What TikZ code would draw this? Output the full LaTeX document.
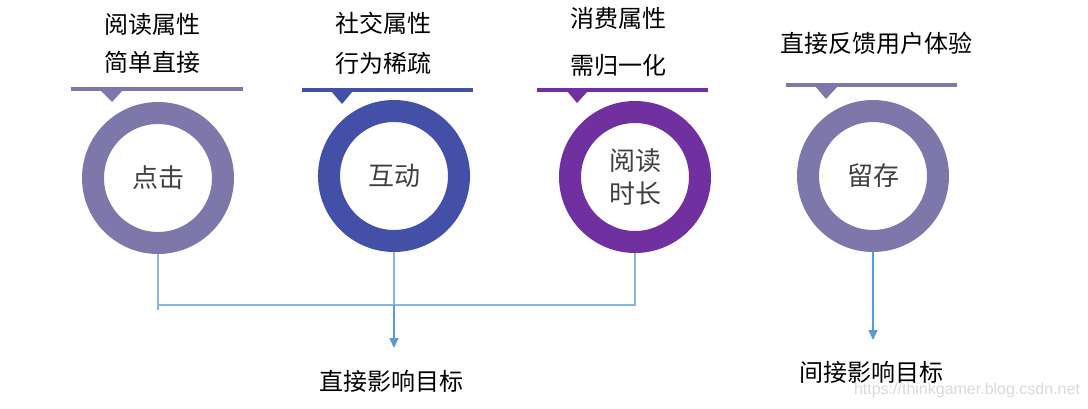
\documentclass[tikz,border=0pt]{standalone}
\usepackage{fontspec}
\setmainfont{Noto Sans CJK SC}
\newfontfamily\markfont{Liberation Sans}
\usetikzlibrary{arrows.meta}

% 颜色
\definecolor{ringA}{HTML}{7E78AA}
\definecolor{ringB}{HTML}{4450A8}
\definecolor{ringC}{HTML}{7030A0}
\definecolor{linkblue}{HTML}{8AB4E2}
\definecolor{arrowblue}{HTML}{5B9BD5}
\definecolor{labelgray}{HTML}{404040}

\tikzset{
  ring/.style={circle, draw=#1, line width=22pt, minimum size=130pt, inner sep=0pt,
    align=center, text=labelgray, font=\fontsize{26}{33}\selectfont},
  attr/.style={font=\fontsize{24}{28}\selectfont, text=black},
  link/.style={draw=linkblue, line width=1.2pt},
  linkarrow/.style={draw=arrowblue, line width=1.5pt, -{Triangle[width=9pt,length=10pt]}},
}

\begin{document}
\begin{tikzpicture}[x=1pt,y=-1pt]  % 按像素坐标, y 向下

    \useasboundingbox (0,0) rectangle (1088,409);

    % 四个圆环
    \node[ring=ringA] (click) at (158,178) {点击};
    \node[ring=ringB] (interact) at (394,176) {互动};
    \node[ring=ringC] (readtime) at (635,177) {阅读\\时长};
    \node[ring=ringA] (retain) at (873,176) {留存};

    % 圆环上方的横条和小三角
    \fill[ringA] (71,87) rectangle (243,91); % 点击
    \fill[ringA] (100,90) -- (123,90) -- (112,102) -- cycle;
    \fill[ringB] (302,88) rectangle (473,92); % 互动
    \fill[ringB] (331,91) -- (353,91) -- (342,104) -- cycle;
    \fill[ringC] (537,88) rectangle (708,92); % 阅读时长
    \fill[ringC] (567,91) -- (588,91) -- (577,103) -- cycle;
    \fill[ringA] (786,83) rectangle (957,87); % 留存
    \fill[ringA] (815,86) -- (838,86) -- (826,99) -- cycle;

    % 属性说明
    \node[attr] (clickA) at (152,24) {阅读属性};
    \node[attr] (clickB) at (152,62) {简单直接};
    \node[attr] (interactA) at (383,23) {社交属性};
    \node[attr] (interactB) at (383,63) {行为稀疏};
    \node[attr] (readtimeA) at (618,18) {消费属性};
    \node[attr] (readtimeB) at (618,65) {需归一化};
    \node[attr] (retainA) at (876,43) {直接反馈用户体验};

    % 目标
    \node[attr] (direct) at (391,381) {直接影响目标};
    \node[attr] (indirect) at (871,372) {间接影响目标};
    \coordinate (directin) at (394,348);
    \coordinate (indirectin) at (873,340);

    % 连线
    \draw[link] (click.south) -- (click.south |- 0,310);
    \draw[link] (click.south |- 0,305) -- (readtime.south |- 0,305) -- (readtime.south);
    \draw[link] (interact.south) -- (interact.south |- 0,305);
    \draw[linkarrow] (interact.south |- 0,305) -- (directin);
    \draw[linkarrow] (retain.south) -- (indirectin);

    % 水印
    \node[font=\markfont\fontsize{16}{18}\selectfont, text=gray!30] (mark) at (967,390)
      {https://thinkgamer.blog.csdn.net};

\end{tikzpicture}
\end{document}
